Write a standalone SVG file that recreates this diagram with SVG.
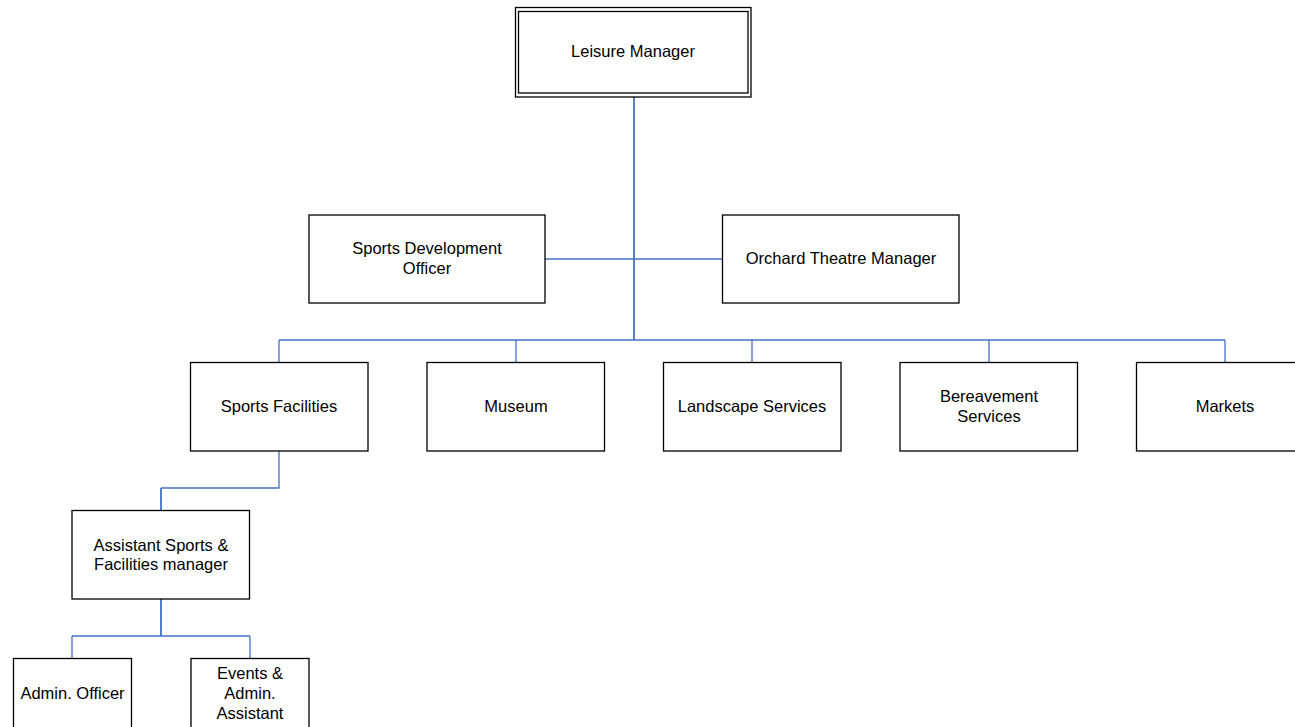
<svg xmlns="http://www.w3.org/2000/svg" width="1295" height="727" viewBox="0 0 1295 727">
<style>
.box{fill:#ffffff;stroke:#000000;stroke-width:1.3}
.t{font-family:"Liberation Sans",Arial,sans-serif;font-size:16.5px;fill:#000000;text-anchor:middle}
.c{fill:none;stroke:#4472C4;stroke-width:1.3}
.cm{fill:none;stroke:#4472C4;stroke-width:1.8}
</style>
<rect width="1295" height="727" fill="#ffffff"/>
<g id="connectors">
<path class="cm" d="M634 97 V340"/>
<path class="c" d="M545 259 H722"/>
<path class="c" d="M279 340 H1225"/>
<path class="c" d="M279 340 V362 M516 340 V362 M752 340 V362 M989 340 V362 M1225 340 V362"/>
<path class="c" d="M279 451 V488 H161"/>
<path class="cm" d="M161 488 V510"/>
<path class="cm" d="M161 599 V636"/>
<path class="c" d="M72 636 H250 M72 636 V658 M250 636 V658"/>
</g>
<g id="leisure-manager">
<rect class="box" x="515.5" y="7.5" width="235.5" height="89.5"/>
<rect class="box" x="518.5" y="11.5" width="229.5" height="81.5"/>
<text class="t" x="633" y="57">Leisure Manager</text>
</g>
<g id="sports-development-officer">
<rect class="box" x="309" y="215" width="236" height="88"/>
<text class="t" x="427" y="254">Sports Development</text>
<text class="t" x="427" y="274">Officer</text>
</g>
<g id="orchard-theatre-manager">
<rect class="box" x="722.5" y="215" width="236.5" height="88"/>
<text class="t" x="841" y="264">Orchard Theatre Manager</text>
</g>
<g id="sports-facilities">
<rect class="box" x="190.5" y="362.5" width="177.5" height="88.5"/>
<text class="t" x="279" y="412">Sports Facilities</text>
</g>
<g id="museum">
<rect class="box" x="427" y="362.5" width="177.5" height="88.5"/>
<text class="t" x="516" y="412">Museum</text>
</g>
<g id="landscape-services">
<rect class="box" x="663.5" y="362.5" width="177.5" height="88.5"/>
<text class="t" x="752" y="412">Landscape Services</text>
</g>
<g id="bereavement-services">
<rect class="box" x="900" y="362.5" width="177.5" height="88.5"/>
<text class="t" x="989" y="402">Bereavement</text>
<text class="t" x="989" y="422">Services</text>
</g>
<g id="markets">
<rect class="box" x="1136.5" y="362.5" width="177.5" height="88.5"/>
<text class="t" x="1225" y="412">Markets</text>
</g>
<g id="assistant-sports-facilities-manager">
<rect class="box" x="72" y="510.5" width="177.5" height="88.5"/>
<text class="t" x="161" y="551">Assistant Sports &amp;</text>
<text class="t" x="161" y="570">Facilities manager</text>
</g>
<g id="admin-officer">
<rect class="box" x="13.5" y="658.5" width="118" height="88"/>
<text class="t" x="72.5" y="699">Admin. Officer</text>
</g>
<g id="events-admin-assistant">
<rect class="box" x="191" y="658.5" width="118" height="88"/>
<text class="t" x="250" y="679">Events &amp;</text>
<text class="t" x="250" y="699">Admin.</text>
<text class="t" x="250" y="719">Assistant</text>
</g>
</svg>
